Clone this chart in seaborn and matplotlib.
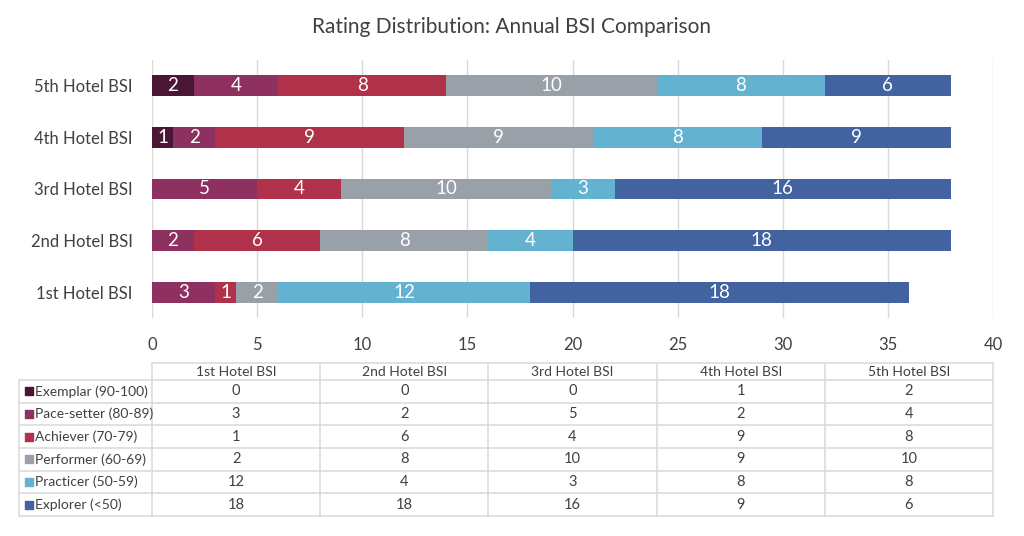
import matplotlib
matplotlib.use("Agg")
import matplotlib.pyplot as plt
import seaborn as sns
import pandas as pd
import numpy as np

# ---- data ----
hotels = ['1st Hotel BSI', '2nd Hotel BSI', '3rd Hotel BSI', '4th Hotel BSI', '5th Hotel BSI']
ratings = ['Exemplar (90-100)', 'Pace-setter (80-89)', 'Achiever (70-79)',
           'Performer (60-69)', 'Practicer (50-59)', 'Explorer (<50)']
exemplar = [0, 0, 0, 1, 2]
pace_setter = [3, 2, 5, 2, 4]
achiever = [1, 6, 4, 9, 8]
performer = [2, 8, 10, 9, 10]
practicer = [12, 4, 3, 8, 8]
explorer = [18, 18, 16, 9, 6]
colors = ['#4B1535', '#8E3060', '#B0324A', '#99A0A8', '#62B2D0', '#4263A0']

series = [exemplar, pace_setter, achiever, performer, practicer, explorer]
df = pd.DataFrame(series, index=ratings, columns=hotels).T
cum = df.cumsum(axis=1)
left = cum - df

order = hotels[::-1]  # top to bottom

sns.set_theme(style="white")
plt.rcParams['font.family'] = ['Lato', 'DejaVu Sans']
txt = '#404040'
grid_c = '#D9D9D9'

fig = plt.figure(figsize=(10.24, 5.36), dpi=100)
W, H = 1024, 536
ax = fig.add_axes([152 / W, 1 - 318 / H, (993 - 152) / W, (318 - 60) / H])

# stacked bars: draw cumulative totals from the outermost segment inwards
for r, c in zip(ratings[::-1], colors[::-1]):
    plot_df = pd.DataFrame({'hotel': hotels, 'value': cum[r].values})
    sns.barplot(data=plot_df, x='value', y='hotel', order=order, color=c,
                width=0.4, saturation=1, edgecolor='none', linewidth=0, ax=ax, zorder=3)

# segment labels
for i, h in enumerate(order):
    for r in ratings:
        v = df.loc[h, r]
        if v > 0:
            ax.text(left.loc[h, r] + v / 2, i, str(v), ha='center', va='center',
                    color='white', fontsize=13.5, zorder=4)

ax.set_xlim(0, 40)
ax.set_ylim(4.5, -0.5)
ax.set_xticks(range(0, 41, 5))
ax.xaxis.grid(True, color=grid_c, linewidth=1, zorder=0)
ax.set_axisbelow(True)
for s in ax.spines.values():
    s.set_visible(False)
ax.set_xlabel('')
ax.set_ylabel('')
ax.tick_params(axis='x', labelsize=12, colors=txt, length=0, pad=14)
ax.tick_params(axis='y', labelsize=12, colors=txt, length=0, pad=14)

fig.text(0.5, 1 - 27 / H, 'Rating Distribution: Annual BSI Comparison',
         ha='center', va='center', fontsize=15, color=txt)

# ---- data table ----
tax = fig.add_axes([0, 0, 1, 1])
tax.set_xlim(0, W)
tax.set_ylim(H, 0)
tax.axis('off')

x0, xl, x1 = 19, 152, 993
col_w = (x1 - xl) / len(hotels)
y_head, y_body = 363, 380
row_h = (516 - y_body) / len(ratings)
lc = '#D9D9D9'
lw = 1.1

# header
tax.plot([xl, x1], [y_head, y_head], color=lc, lw=lw)
for j in range(len(hotels) + 1):
    tax.plot([xl + j * col_w] * 2, [y_head, y_body], color=lc, lw=lw)
for j, h in enumerate(hotels):
    tax.text(xl + (j + 0.5) * col_w, (y_head + y_body) / 2, h, ha='center',
             va='center', fontsize=10, color=txt)

# body
for k in range(len(ratings) + 1):
    tax.plot([x0, x1], [y_body + k * row_h] * 2, color=lc, lw=lw)
tax.plot([x0, x0], [y_body, y_body + len(ratings) * row_h], color=lc, lw=lw)
for j in range(len(hotels) + 1):
    tax.plot([xl + j * col_w] * 2, [y_body, y_body + len(ratings) * row_h], color=lc, lw=lw)

for k, (r, c) in enumerate(zip(ratings, colors)):
    yc = y_body + (k + 0.5) * row_h
    tax.scatter([29], [yc], marker='s', s=32, color=c, zorder=3)
    tax.text(35, yc, r, ha='left', va='center', fontsize=10, color=txt)
    for j, h in enumerate(hotels):
        tax.text(xl + (j + 0.5) * col_w, yc, str(df.loc[h, r]), ha='center',
                 va='center', fontsize=10.5, color=txt)

fig.savefig('out.png', dpi=100)
